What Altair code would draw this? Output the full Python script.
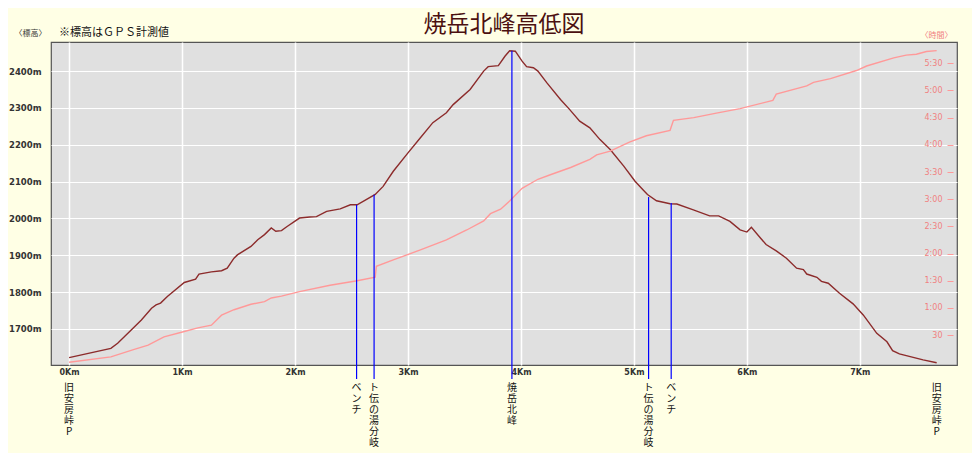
import altair as alt
import pandas as pd

# ---------------- data ----------------
elev_km = [0.00, 0.37, 0.43, 0.55, 0.64, 0.73, 0.77, 0.81, 0.87, 1.02, 1.12, 1.15, 1.26, 1.35,
           1.40, 1.46, 1.49, 1.61, 1.67, 1.73, 1.79, 1.83, 1.88, 1.93, 2.04, 2.13, 2.19, 2.28,
           2.40, 2.49, 2.55, 2.63, 2.71, 2.78, 2.87, 3.00, 3.11, 3.22, 3.34, 3.40, 3.55, 3.67,
           3.71, 3.80, 3.86, 3.90, 3.95, 4.01, 4.05, 4.11, 4.15, 4.23, 4.35, 4.43, 4.52, 4.61,
           4.70, 4.79, 4.91, 5.01, 5.08, 5.12, 5.20, 5.32, 5.38, 5.52, 5.67, 5.75, 5.85, 5.94,
           6.00, 6.04, 6.12, 6.17, 6.26, 6.35, 6.44, 6.50, 6.53, 6.62, 6.66, 6.72, 6.82, 6.94,
           7.03, 7.15, 7.24, 7.29, 7.35, 7.56, 7.68]
elev_m = [1622, 1647, 1661, 1697, 1724, 1756, 1765, 1770, 1788, 1826, 1835, 1849, 1855, 1858,
          1865, 1892, 1901, 1924, 1942, 1956, 1974, 1965, 1967, 1978, 2001, 2004, 2005, 2019,
          2026, 2037, 2037, 2051, 2065, 2087, 2128, 2178, 2219, 2260, 2287, 2309, 2350, 2400,
          2412, 2415, 2441, 2455, 2454, 2427, 2412, 2409, 2400, 2368, 2323, 2296, 2264, 2246,
          2214, 2187, 2142, 2101, 2078, 2065, 2048, 2040, 2039, 2024, 2007, 2007, 1992, 1969,
          1963, 1976, 1947, 1929, 1912, 1892, 1865, 1861, 1849, 1840, 1829, 1824, 1797, 1768,
          1738, 1688, 1665, 1641, 1632, 1616, 1608]

time_km = [0.00, 0.37, 0.57, 0.70, 0.84, 1.02, 1.14, 1.26, 1.35, 1.46, 1.61, 1.73, 1.79, 1.88,
           2.04, 2.31, 2.55, 2.71, 2.72, 2.87, 3.11, 3.34, 3.52, 3.67, 3.73, 3.82, 3.90, 4.01,
           4.15, 4.26, 4.44, 4.61, 4.67, 4.79, 4.96, 5.11, 5.32, 5.35, 5.53, 5.73, 5.94, 6.23,
           6.26, 6.53, 6.59, 6.74, 6.97, 7.06, 7.30, 7.41, 7.50, 7.59, 7.68]
time_min = [0, 6, 14, 19, 28, 34, 38, 41, 52, 58, 64, 67, 71, 73,
            78, 85, 90, 94, 106, 113, 124, 135, 146, 156, 164, 169, 178, 192,
            202, 207, 215, 224, 229, 233, 243, 250, 256, 267, 270, 275, 280, 289,
            296, 305, 309, 313, 322, 327, 336, 339, 340, 343, 344]

place_names = ["旧安房峠P", "ベンチ", "ト伝の湯分岐", "焼岳北峰", "ト伝の湯分岐", "ベンチ", "旧安房峠P"]
place_km = [0.0, 2.545, 2.70, 3.92, 5.13, 5.33, 7.68]
place_elev = [1622, 2037, 2064, 2455, 2058, 2042, 1608]
place_marked = [False, True, True, True, True, True, False]

km_ticks = [0, 1, 2, 3, 4, 5, 6, 7]
elev_ticks = [1700, 1800, 1900, 2000, 2100, 2200, 2300, 2400]
time_ticks = [30, 60, 90, 120, 150, 180, 210, 240, 270, 300, 330]

title_text = "焼岳北峰高低図"
note_text = "※標高はＧＰＳ計測値"

# ---------------- tables ----------------
elev_df = pd.DataFrame({"km": elev_km, "elev": elev_m})
time_df = pd.DataFrame({"km": time_km, "minutes": time_min})
places_df = pd.DataFrame({
    "km": place_km,
    "elev": place_elev,
    "marked": place_marked,
    "vname": ["\n".join(list(n)) for n in place_names],
})
note_df = pd.DataFrame({"t": [note_text]})

# ---------------- styling ----------------
W, H = 906, 323
X_DOMAIN = [-0.16, 7.86]
Y_DOMAIN = [1602, 2479]
T_DOMAIN = [-3, 353.5]
JP = "Noto Sans CJK JP"
AX = "DejaVu Sans"

x_enc = alt.X(
    "km:Q",
    scale=alt.Scale(domain=X_DOMAIN, nice=False, zero=False),
    axis=alt.Axis(values=km_ticks, labelExpr="datum.value + 'Km'", grid=True,
                  gridColor="#ffffff", gridWidth=1.5, ticks=False, domain=False,
                  labelPadding=3, labelFont=AX, labelFontSize=8, labelFontWeight="bold",
                  labelColor="#333333", title=None),
)

elev_line = alt.Chart(elev_df).mark_line(color="#8c2b2b", strokeWidth=1.4).encode(
    x=x_enc,
    y=alt.Y("elev:Q",
            scale=alt.Scale(domain=Y_DOMAIN, nice=False, zero=False),
            axis=alt.Axis(orient="left", values=elev_ticks, labelExpr="datum.value + 'm'",
                          grid=True, gridColor="#ffffff", gridWidth=1, ticks=False,
                          domain=False, labelPadding=10, labelFont=AX, labelFontSize=8.5,
                          labelFontWeight="bold", labelColor="#333333",
                          title="〈標高〉", titleAngle=0, titleX=-21, titleY=-9,
                          titleAlign="center", titleBaseline="middle", titleFont=JP,
                          titleFontSize=8, titleFontWeight="normal", titleColor="#333333")),
)

time_label_expr = ("datum.value < 60 ? '' + datum.value : "
                   "floor(datum.value / 60) + ':' + (datum.value % 60 == 0 ? '00' : '30')")

time_line = alt.Chart(time_df).mark_line(color="#ff9999", strokeWidth=1.4).encode(
    x=x_enc,
    y=alt.Y("minutes:Q",
            scale=alt.Scale(domain=T_DOMAIN, nice=False, zero=False),
            axis=alt.Axis(orient="left", offset=-(W - 4), values=time_ticks,
                          labelExpr=time_label_expr, grid=False, ticks=True, tickSize=6,
                          tickColor="#ff9999", domain=False, labelPadding=5,
                          labelFont=AX, labelFontSize=8, labelColor="#f08080",
                          title="〈時間〉", titleAngle=0, titleX=-17, titleY=-7,
                          titleAlign="center", titleBaseline="middle", titleFont=JP,
                          titleFontSize=8, titleFontWeight="normal", titleColor="#f08080")),
)

rules = alt.Chart(places_df).transform_filter("datum.marked").mark_rule(
    color="#0000ff", strokeWidth=1.2
).encode(
    x=x_enc,
    y=alt.Y("elev:Q", scale=alt.Scale(domain=Y_DOMAIN, nice=False, zero=False), axis=None),
    y2=alt.value(H + 14),
)

labels = alt.Chart(places_df).mark_text(
    lineBreak="\n", baseline="top", align="center", font=JP, fontSize=10,
    lineHeight=11, color="#111111"
).encode(x=x_enc, y=alt.value(H + 18), text="vname:N")

note = alt.Chart(note_df).mark_text(
    align="left", baseline="middle", font=JP, fontSize=11, color="#111111"
).encode(x=alt.value(8), y=alt.value(-9), text="t:N")

chart = alt.layer(elev_line, time_line, rules, labels, note).resolve_scale(
    y="independent"
).properties(
    width=W,
    height=H,
    title=alt.TitleParams(title_text, font=JP, fontSize=23, fontWeight="normal",
                          color="#4b1010", anchor="middle", offset=-10),
    autosize=alt.AutoSizeParams(type="none"),
    padding={"left": 43, "top": 34, "right": 15, "bottom": 88},
    background="#ffffe5",
).configure_view(
    fill="#e0e0e0", stroke="#555555", strokeWidth=1.2
)

chart.save("out.html", embed_options={"renderer": "svg", "actions": False})
